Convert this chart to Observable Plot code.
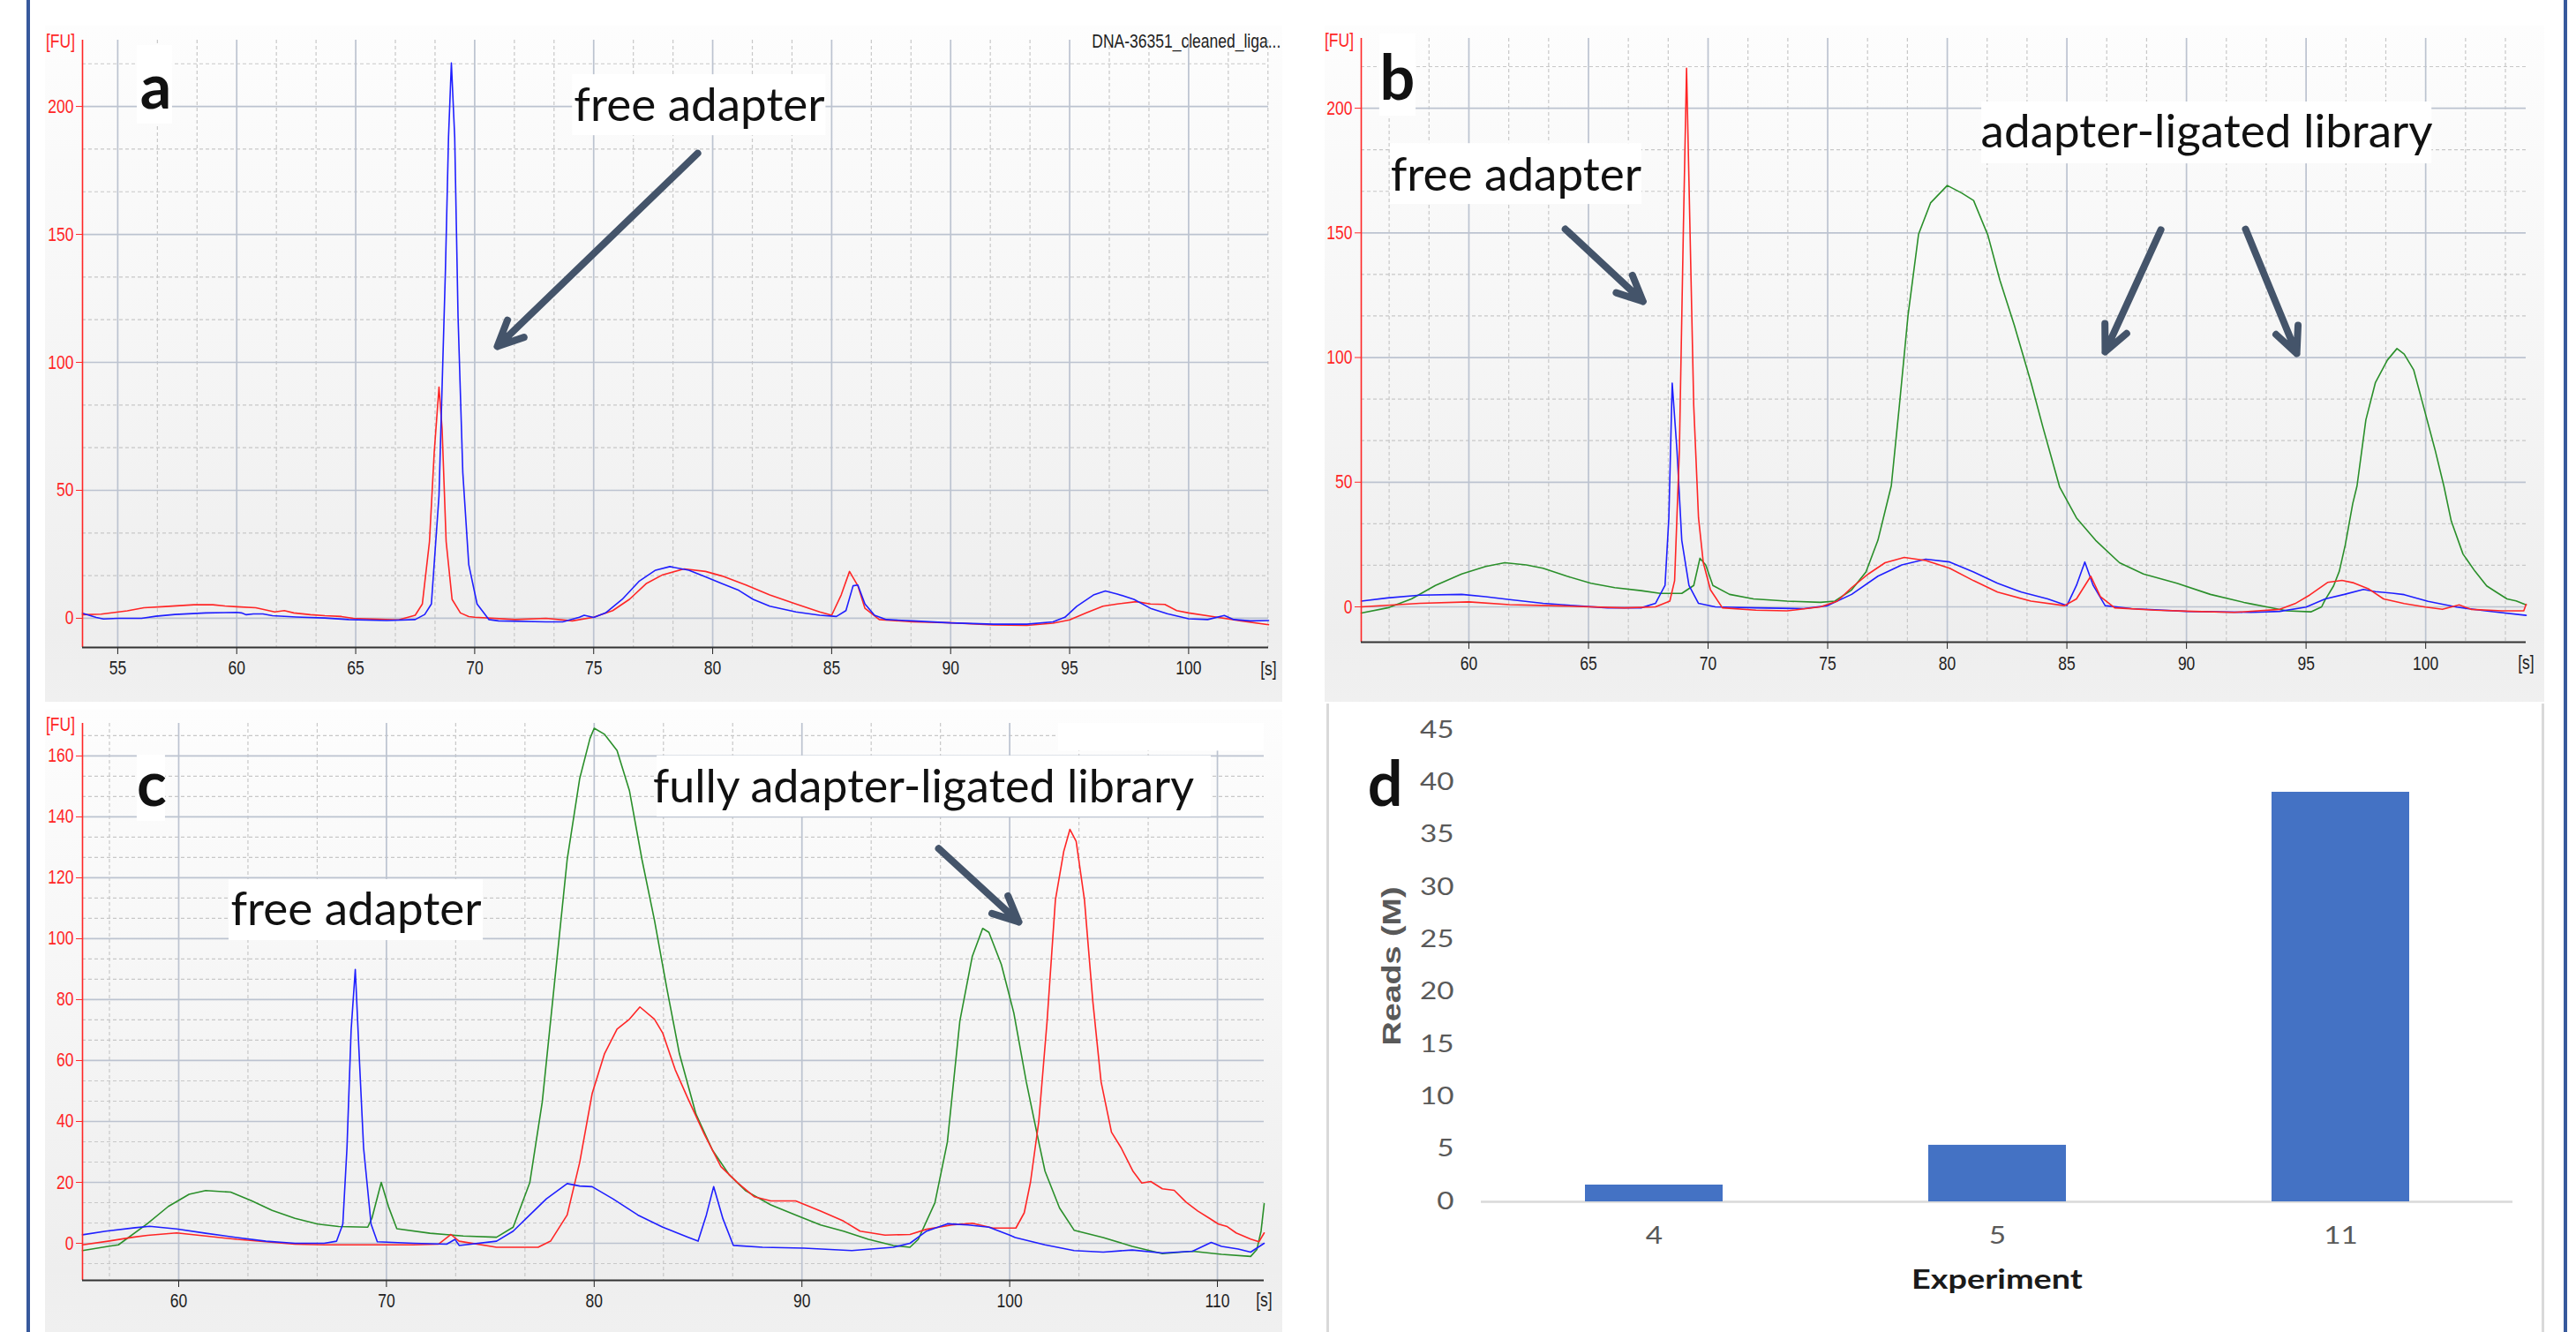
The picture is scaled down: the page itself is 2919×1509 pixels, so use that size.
<!DOCTYPE html>
<html><head><meta charset="utf-8">
<script src="https://cdn.jsdelivr.net/npm/d3@7"></script>
<script src="https://cdn.jsdelivr.net/npm/@observablehq/plot@0.6"></script>
<style>
html,body{margin:0;padding:0;background:#fff;}
#fig{position:relative;width:2919px;height:1509px;background:#fff;overflow:hidden;}
.panel{position:absolute;}
.bord{position:absolute;top:0;height:1509px;width:4px;background:#37599c;}
.dline{position:absolute;top:797px;height:712px;width:3px;background:#d9d9d9;}
</style></head><body>
<div id="fig">
  <div class="bord" style="left:30px"></div>
  <div class="bord" style="left:2905px"></div>
  <div class="panel" id="pa" style="left:51px;top:29px;width:1402px;height:766px"></div>
  <div class="panel" id="pb" style="left:1501px;top:29px;width:1382px;height:766px"></div>
  <div class="panel" id="pc" style="left:51px;top:804px;width:1402px;height:705px"></div>
  <div class="panel" id="pd" style="left:1503px;top:797px;width:1380px;height:712px"></div>
  <div class="dline" style="left:1503px"></div>
  <div class="dline" style="left:2880px"></div>
</div>
<script>
// ---------- data ----------
const aXTicks = [55,60,65,70,75,80,85,90,95,100];
const aYTicks = [0,50,100,150,200];
const bXTicks = [60,65,70,75,80,85,90,95,100];
const bYTicks = [0,50,100,150,200];
const cXTicks = [60,70,80,90,100,110];
const cYTicks = [0,20,40,60,80,100,120,140,160];
const dYTicks = [0,5,10,15,20,25,30,35,40,45];
const dExperiments = ["4","5","11"];
const dReads = [1.6,5.4,39.1];
const panelLetters = ["a","b","c","d"];
const sampleName = "DNA-36351_cleaned_liga...";
const labelFree = "free adapter";
const labelLigated = "adapter-ligated library";
const labelFully = "fully adapter-ligated library";
const unitY = "[FU]", unitX = "[s]";
const dYLabel = "Reads (M)", dXLabel = "Experiment";

// panel a traces [time s, FU]
const aRed = [[53.52,1.4],[54.3,1.6],[55.4,2.9],[56.1,4.1],[57.0,4.6],[58.2,5.3],[59.0,5.3],[59.5,4.8],[60.0,4.5],[60.8,4.1],[61.6,2.5],[62.0,3.0],[62.4,2.1],[63.1,1.4],[63.7,1.0],[64.4,0.7],[64.9,0],[66.8,-0.6],[67.5,1.2],[67.8,5.6],[68.1,30],[68.3,65],[68.5,90.3],[68.63,74],[68.8,30],[69.05,7.4],[69.4,2.1],[69.75,0.7],[70.0,0.4],[71.7,-0.5],[73.0,0],[74.1,-1],[75.0,0.4],[75.8,3],[76.5,7.4],[77.2,13.5],[77.9,17],[78.8,19.3],[79.7,18.3],[80.4,16.5],[81.4,13],[82.4,9.1],[83.5,5.6],[84.5,2.5],[85.0,1.2],[85.4,9.1],[85.75,18.3],[86.1,12.7],[86.4,3.9],[87.0,-0.5],[88.4,-1.4],[90.1,-1.8],[91.8,-2.6],[93.2,-2.8],[94.3,-1.9],[95.0,-0.6],[95.7,2.1],[96.4,4.7],[97.0,5.6],[97.8,6.5],[98.4,5.6],[99.0,5.4],[99.5,3],[100.0,2.1],[101.2,0.4],[102.2,-1],[103.36,-2.5]];
const aBlue = [[53.52,2.0],[54.1,0.3],[54.4,-0.3],[55.0,0],[56.0,0],[56.6,0.8],[57.4,1.5],[58.7,2.1],[60.0,2.3],[60.2,2.1],[60.4,1.4],[60.7,1.7],[61.1,1.7],[61.5,1.0],[62.5,0.5],[63.7,0.1],[64.7,-0.5],[66.3,-0.9],[67.5,-0.5],[67.9,1.5],[68.18,5.6],[68.5,48],[68.77,136],[68.9,188],[69.02,217],[69.16,188],[69.3,118],[69.5,57],[69.75,21],[70.1,5.6],[70.6,-0.5],[71.0,-1],[73.0,-1.4],[73.7,-1.4],[74.4,0.4],[74.6,1.2],[75.0,0.3],[75.5,2.1],[76.2,7.4],[76.9,14.4],[77.6,18.8],[78.2,20.2],[79.0,18.8],[79.7,16.2],[80.4,13.5],[81.1,10.9],[81.7,7.4],[82.4,4.7],[83.5,2.5],[84.5,1.2],[85.2,0.7],[85.6,3],[85.9,12.7],[86.1,13],[86.4,5.6],[86.8,1.2],[87.3,-0.5],[88.4,-1],[90.0,-1.8],[91.8,-2.3],[93.2,-2.3],[94.3,-1.4],[94.8,0.4],[95.3,4.7],[96.0,9.1],[96.5,10.7],[97.0,9.5],[97.7,7.4],[98.4,3.9],[99.1,1.8],[100.0,-0.2],[100.8,-0.5],[101.5,1.1],[101.9,-0.5],[102.6,-1],[103.36,-0.9]];

// panel b traces
const bGreen = [[55.5,-2.5],[56.6,-0.4],[57.6,3.2],[58.6,8.6],[59.7,13.2],[60.7,16.2],[61.5,17.7],[62.4,16.8],[63.1,15.5],[64.1,12.3],[65.1,9.5],[66.1,7.7],[67.2,6.5],[68.0,5.4],[68.9,5.4],[69.4,8.6],[69.66,19.5],[69.9,16.8],[70.2,8.6],[70.9,5],[71.9,3.2],[73.3,2.3],[74.7,1.8],[75.3,2.3],[76.0,6.8],[76.6,14],[77.1,26.7],[77.66,48.6],[78.0,81],[78.36,117],[78.8,149.5],[79.3,162],[80.0,169],[80.6,166],[81.1,163],[81.7,149],[82.2,131],[82.8,113],[83.5,90],[84.0,72],[84.7,48],[85.4,35.7],[86.2,26.7],[87.2,17.7],[88.2,13.2],[89.6,9.5],[91.0,5],[92.4,1.8],[92.7,1.2],[93.4,-0.1],[94.2,-1.6],[95.2,-2],[95.65,0],[95.78,2.5],[96.15,8.4],[96.39,14.3],[96.64,24.9],[96.95,41.4],[97.13,48.5],[97.5,75],[97.9,90],[98.4,99],[98.8,103.6],[99.1,101.4],[99.5,95],[99.8,84.3],[100.4,62.7],[100.76,48.5],[101.07,34.4],[101.56,21.2],[102.06,14.3],[102.55,8.4],[102.92,6.1],[103.4,3.2],[103.78,2.4],[104.2,0.8]];
const bRed = [[55.5,0],[57.95,1.4],[60.0,2],[61.7,0.9],[63.8,0.4],[66.5,-0.4],[67.8,0],[68.4,2.3],[68.6,10.5],[68.8,62.7],[68.97,153],[69.1,216],[69.2,171],[69.4,80.7],[69.6,35.7],[69.8,17.7],[70.1,6.8],[70.6,-0.4],[72.0,-1.3],[73.3,-1.6],[74.7,0],[75.4,2.3],[76.0,7.7],[76.7,13.2],[77.4,17.7],[78.2,19.8],[79.1,18.6],[80.1,15.5],[81.1,10.5],[82.1,5.9],[83.5,2.3],[84.9,0.5],[85.4,3.2],[86.0,12.3],[86.4,4.1],[87.0,-0.4],[88.7,-1.3],[90.3,-1.8],[92.0,-2.2],[93.9,-1],[94.54,1.3],[95.16,4.8],[95.9,9.8],[96.5,10.6],[97.0,9.6],[97.6,7.3],[98.24,3.2],[99.1,1.3],[100.0,-0.1],[100.7,-1],[101.4,0.8],[101.9,-1],[103.2,-1.6],[104.1,-1.6],[104.2,1]];
const bBlue = [[55.5,2.3],[56.6,3.6],[57.95,4.7],[59.7,5],[60.7,4.1],[61.7,2.9],[63.1,1.4],[64.4,0.5],[65.8,-0.4],[67.2,-0.4],[67.8,1.4],[68.2,8.6],[68.36,35.7],[68.5,89.7],[68.7,62.7],[68.9,26.7],[69.2,8.6],[69.6,1.4],[70.3,0],[72.0,-0.4],[74.0,-0.7],[75.0,0.5],[76.0,5],[77.1,12.3],[78.1,16.8],[79.1,19.1],[80.1,18],[81.1,14],[82.1,9.5],[83.1,5.9],[84.2,3.2],[85.0,0.5],[85.4,8.6],[85.75,18],[86.1,8.6],[86.6,0.5],[87.7,-0.7],[90.0,-1.8],[92.7,-2.2],[93.9,-1.8],[95.0,-0.1],[95.8,3.2],[96.6,5],[97.4,7],[97.9,6.1],[98.6,5.5],[99.1,4.9],[100.1,2.2],[101.3,-0.1],[102.5,-1.6],[104.2,-3.4]];

// panel c traces
const cGreen = [[55.37,-2.4],[56.6,-1],[57.1,-0.5],[58.5,6.5],[59.5,12.1],[60.5,16.1],[61.3,17.3],[62.5,16.8],[63.5,14],[64.5,10.8],[65.6,8.2],[66.7,6.3],[67.7,5.5],[69.1,5.3],[69.3,8.2],[69.75,20],[70.1,12],[70.5,4.8],[72.1,3.3],[73.7,2.4],[75.3,2],[76.1,5.3],[76.9,19.9],[77.5,46.4],[78.1,86.2],[78.7,126],[79.3,152.5],[79.8,165.8],[80.0,169.1],[80.5,167.1],[81.1,161.8],[81.7,148.5],[82.3,126],[82.9,106.1],[83.5,83.6],[84.1,62.3],[84.9,42.4],[85.7,30.5],[86.5,22.5],[87.3,17.2],[88.5,12.6],[89.7,9.3],[90.9,6],[92.0,4],[93.2,1.3],[94.4,-0.7],[95.2,-1.3],[95.6,1.3],[96.4,13.3],[97.0,33.2],[97.6,72.9],[98.2,94.2],[98.7,103.4],[99.0,102.1],[99.6,91.5],[100.2,75.6],[100.8,53],[101.4,33.2],[101.7,23.7],[102.4,11.6],[103.1,4.3],[104.5,1.9],[105.9,-1],[107.35,-3.4],[108.8,-2.6],[110.2,-3.6],[111.6,-4.3],[111.9,-2],[112.1,4],[112.25,13]];
const cRed = [[55.37,-0.5],[56.6,0.7],[57.8,2],[58.5,2.6],[59.9,3.4],[61.3,2.4],[62.8,1.3],[64.2,0.5],[65.6,-0.3],[67.0,-0.5],[69.8,-0.5],[71.3,-0.5],[72.5,-0.3],[73.1,2.9],[73.5,0.7],[75.3,-1.3],[77.3,-1.3],[77.9,0.7],[78.7,9.3],[79.3,26.5],[79.9,49.1],[80.5,62.3],[81.1,70.3],[81.7,73.6],[82.2,77.6],[82.9,73.6],[83.3,69],[83.9,57],[84.5,47.7],[85.3,35.8],[86.1,25.2],[86.9,19.9],[87.7,15.3],[88.5,13.9],[89.7,13.9],[90.9,10.6],[92.0,7.3],[92.8,4],[94.0,2.7],[95.2,2.9],[96.0,4.6],[97.2,6],[98.2,6.6],[99.2,5],[100.3,5],[100.7,10],[101.0,20],[101.4,40],[101.8,72.9],[102.2,112.7],[102.6,128.6],[102.9,135.9],[103.2,132],[103.6,112.7],[104.0,79.6],[104.4,53],[104.9,36.5],[105.37,31.3],[105.94,23.6],[106.36,19.8],[106.79,20.3],[107.35,17.9],[107.92,17.4],[108.49,13.5],[109.05,10.6],[109.62,8.2],[110.05,6.3],[110.47,5.5],[110.9,3.4],[111.6,1.4],[112.0,0.5],[112.25,3.4]];
const cBlue = [[55.37,2.8],[56.5,4],[57.9,5.1],[58.6,5.6],[59.9,4.7],[61.3,3.3],[62.8,1.9],[64.2,0.7],[65.6,0],[67.0,0],[67.6,0.7],[67.9,6.3],[68.1,31.3],[68.3,70],[68.5,89.9],[68.7,60],[68.9,31.3],[69.26,6.3],[69.56,0.5],[71.3,0],[72.9,-0.3],[73.3,1.3],[73.5,-0.7],[75.3,0.7],[76.1,4],[76.9,9.3],[77.7,14.6],[78.7,19.6],[79.3,18.8],[79.9,18.6],[80.9,14.6],[82.1,9.3],[83.3,5.3],[84.5,2],[85.0,0.7],[85.4,9.3],[85.75,18.6],[86.2,8],[86.7,-0.7],[88.1,-1.3],[90.1,-1.6],[92.4,-2.4],[94.4,-1.3],[95.2,0],[96.0,4],[97.0,6.4],[98.0,6],[99.0,5.3],[100.0,2.7],[100.27,1.9],[101.7,-0.5],[103.1,-2.4],[104.5,-2.9],[105.9,-2.2],[107.35,-3.2],[108.8,-2.6],[109.7,0.3],[110.2,-1],[111.0,-1.9],[111.6,-2.9],[112.25,0]];

// ---------- helpers ----------
const RED = "#ff2626", BLUE = "#1f1fff", GREEN = "#2a8f2a", ARROW = "#44546a";
const ANNOT_FONT = "Lato, 'Open Sans', sans-serif";

function minorGrid(lo, hi, step) {
  const s = step / 3, out = [];
  for (let k = Math.ceil(lo / s - 1e-6); k * s <= hi + 1e-6; k++) {
    if (((k % 3) + 3) % 3 !== 0) out.push(k * s);
  }
  return out;
}
function pxAttr(v) {
  if (!v || /em$/.test(v)) return 0;
  const f = parseFloat(v);
  return isNaN(f) ? 0 : f;
}
// non-uniform text scaling about each text's own anchor
function stretchEl(t, kx, ky) {
  const x = pxAttr(t.getAttribute("x")), y = pxAttr(t.getAttribute("y"));
  const tr = t.getAttribute("transform") || "";
  t.setAttribute("transform", `${tr} translate(${x},${y}) scale(${kx},${ky}) translate(${-x},${-y})`);
}
function stretchText(svg, sel, kx, ky) {
  svg.querySelectorAll(sel).forEach(t => stretchEl(t, kx, ky));
}
function stretchByContent(svg, strings, kx, ky) {
  svg.querySelectorAll("text").forEach(t => { if (strings.includes(t.textContent)) stretchEl(t, kx, ky); });
}
const letter = (s, x, y) => Plot.text([s], {x, y, fontSize: 70, fontWeight: "bold", fontFamily: ANNOT_FONT, fill: "#111", lineAnchor: "bottom", textAnchor: "middle"});
const note = (s, x, y, fs = 53) => Plot.text([s], {x, y, fontSize: fs, fontFamily: ANNOT_FONT, fill: "#111", lineAnchor: "bottom", textAnchor: "middle"});
const box = (x1, x2, y1, y2) => Plot.rect([0], {x1, x2, y1, y2, fill: "white"});
const arrow = (x1, y1, x2, y2) => Plot.arrow([0], {x1, y1, x2, y2, stroke: ARROW, strokeWidth: 8, headLength: 6, headAngle: 50});

function electro(o) {
  const svg = Plot.plot({
    width: o.w, height: o.h,
    marginLeft: o.ml, marginRight: o.mr, marginTop: o.mt, marginBottom: o.mb,
    style: "background: linear-gradient(to bottom, #fdfdfd 0%, #f6f6f6 45%, #eeeeee 90%, #f0f0f0 100%); font-family: 'Liberation Sans', Arial, sans-serif; font-size: 17.5px; color: #222; max-width: none; overflow: visible;",
    x: {domain: o.xd, ticks: o.xt, tickSize: 8, tickPadding: o.xpad, label: null, tickFormat: d => String(d)},
    y: {domain: o.yd, ticks: o.yt, tickSize: 7, tickPadding: 3, label: null, tickFormat: d => String(d)},
    marks: [
      Plot.ruleX(minorGrid(o.xd[0], o.xd[1], o.xstep), {stroke: "#c8c8c8", strokeWidth: 1.2, strokeDasharray: "4,3"}),
      Plot.ruleY(minorGrid(o.yd[0], o.yd[1], o.ystep), {stroke: "#c8c8c8", strokeWidth: 1.2, strokeDasharray: "4,3"}),
      Plot.ruleX(o.xt, {stroke: "#bcc3d0", strokeWidth: 1.7}),
      Plot.ruleY(o.yt, {stroke: "#bcc3d0", strokeWidth: 1.7}),
      ...o.under,
      ...o.series.map(s => Plot.line(s.data, {x: d => d[0], y: d => d[1], stroke: s.color, strokeWidth: 1.6})),
      Plot.ruleX([o.xd[0]], {stroke: RED, strokeWidth: 1.6}),
      Plot.ruleY([o.yd[0]], {stroke: "#333", strokeWidth: 2}),
      Plot.text([unitY], {frameAnchor: "top-left", dx: -25, dy: o.fuDy, fill: RED, textAnchor: "middle", lineAnchor: "middle"}),
      Plot.text([unitX], {frameAnchor: "bottom-right", dy: o.sDy, fill: "#222", textAnchor: "middle", lineAnchor: "middle"}),
      ...o.over
    ]
  });
  svg.querySelectorAll('g[aria-label^="y-axis"]').forEach(g => { g.style.color = RED; g.setAttribute("fill", RED); });
  svg.querySelectorAll('g[aria-label^="x-axis"]').forEach(g => { g.style.color = "#222"; });
  stretchText(svg, 'g[aria-label^="y-axis"] text, g[aria-label^="x-axis"] text', 1, 1.25);
  stretchByContent(svg, [unitY, unitX, sampleName], 1, 1.25);
  document.getElementById(o.id).appendChild(svg);
}

// ---------- panel a ----------
electro({
  id: "pa", w: 1402, h: 766, ml: 42, mr: 16, mt: 16, mb: 62,
  xd: [53.52, 103.36], yd: [-11.4, 225.9], xt: aXTicks, yt: aYTicks, xstep: 5, ystep: 50, xpad: 7,
  fuDy: 1, sDy: 24,
  series: [{data: aRed, color: RED}, {data: aBlue, color: BLUE}],
  under: [box(55.82, 57.30, 193.1, 223.8), box(74.11, 84.76, 188.6, 212.4)],
  over: [
    letter(panelLetters[0], 56.6, 199.3),
    note(labelFree, 79.44, 194.2),
    arrow(79.37, 181.7, 70.95, 106.2),
    Plot.text([sampleName], {x: 103.87, y: 225.5, textAnchor: "end", lineAnchor: "middle", fontSize: 17.5, fill: "#222"})
  ]
});

// ---------- panel b ----------
electro({
  id: "pb", w: 1382, h: 766, ml: 41, mr: 21, mt: 14, mb: 68,
  xd: [55.5, 104.2], yd: [-14.16, 228], xt: bXTicks, yt: bYTicks, xstep: 5, ystep: 50, xpad: 8,
  fuDy: 2, sDy: 23,
  series: [{data: bGreen, color: GREEN}, {data: bBlue, color: BLUE}, {data: bRed, color: RED}],
  under: [box(56.27, 57.79, 196.8, 229.7), box(56.72, 67.23, 161.4, 185.8), box(81.44, 100.26, 177.7, 202.5)],
  over: [
    letter(panelLetters[1], 57.01, 203.5),
    note(labelFree, 61.97, 167.1),
    note(labelLigated, 90.85, 184.1),
    arrow(64.03, 151.5, 67.28, 122.5),
    arrow(88.93, 151.2, 86.6, 102.3),
    arrow(92.47, 151.5, 94.61, 101.6)
  ]
});

// ---------- panel c ----------
electro({
  id: "pc", w: 1402, h: 705, ml: 42, mr: 21, mt: 15, mb: 59,
  xd: [55.37, 112.25], yd: [-12.17, 170.7], xt: cXTicks, yt: cYTicks, xstep: 10, ystep: 20, xpad: 7,
  fuDy: 1, sDy: 22,
  series: [{data: cGreen, color: GREEN}, {data: cRed, color: RED}, {data: cBlue, color: BLUE}],
  under: [box(102.35, 112.25, 161.6, 170.7), box(58.0, 59.36, 138.6, 160.3), box(62.42, 74.66, 99.4, 119.4), box(83.03, 109.7, 140, 160)],
  over: [
    letter(panelLetters[2], 58.7, 143.5),
    note(labelFree, 68.54, 104.6),
    note(labelFully, 95.85, 144.9, 52),
    arrow(96.58, 129.6, 100.44, 105.5)
  ]
});

// ---------- panel d ----------
{
  const rows = dExperiments.map((e, i) => ({experiment: e, reads: dReads[i]}));
  const svg = Plot.plot({
    width: 1380, height: 712, marginLeft: 175, marginRight: 36, marginTop: 30, marginBottom: 148,
    style: "background: #fff; font-family: Lato, 'Open Sans', sans-serif; font-size: 26px; color: #595959; max-width: none; overflow: visible;",
    x: {domain: dExperiments, paddingInner: 0.6, paddingOuter: 0.3, tickSize: 0, tickPadding: 29, label: null},
    y: {domain: [0, 45], ticks: dYTicks, tickSize: 0, tickPadding: 31, label: null, tickFormat: d => String(d)},
    marks: [
      Plot.ruleY([0], {stroke: "#d9d9d9", strokeWidth: 2.5}),
      Plot.barY(rows, {x: "experiment", y: "reads", fill: "#4472c4"}),
      Plot.text([panelLetters[3]], {frameAnchor: "top-left", dx: -109, dy: 85, lineAnchor: "bottom", textAnchor: "middle", fontSize: 70, fontWeight: "bold", fontFamily: ANNOT_FONT, fill: "#111"}),
      Plot.text([dYLabel], {frameAnchor: "left", dx: -101, rotate: -90, textAnchor: "middle", lineAnchor: "middle", fontSize: 29, fontWeight: "bold", fontFamily: "'Liberation Sans', Arial, sans-serif", fill: "#595959"}),
      Plot.text([dXLabel], {frameAnchor: "bottom", dy: 89, textAnchor: "middle", lineAnchor: "middle", fontSize: 31, fontWeight: "bold", fontFamily: ANNOT_FONT, fill: "#1a1a1a"})
    ]
  });
  stretchText(svg, 'g[aria-label^="y-axis"] text, g[aria-label^="x-axis"] text', 1.28, 1);
  stretchByContent(svg, [dXLabel], 1.22, 1);
  stretchByContent(svg, [dYLabel], 1.3, 1);
  document.getElementById("pd").appendChild(svg);
}
</script>
</body></html>
